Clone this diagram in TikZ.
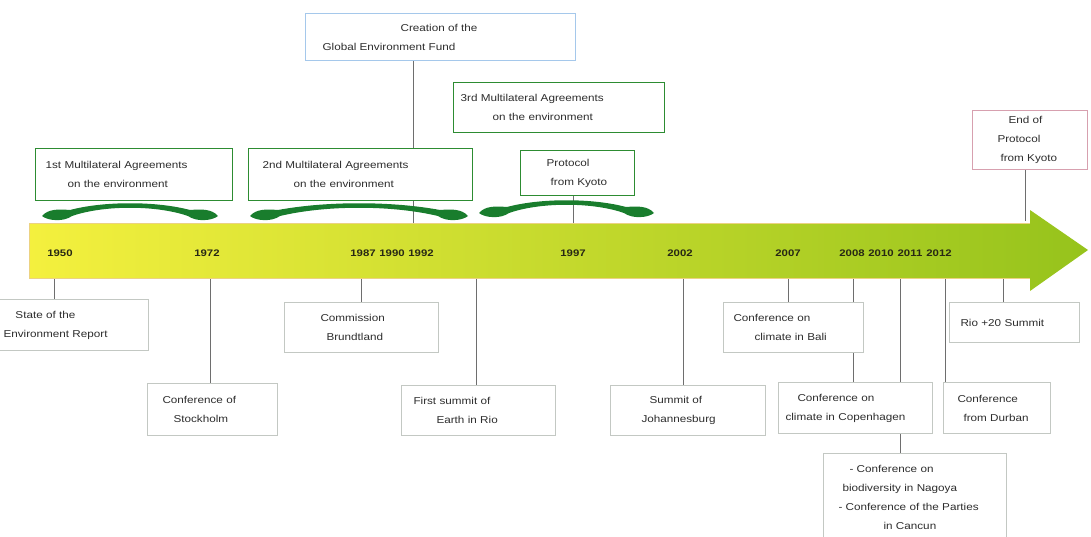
\documentclass[tikz,border=0pt]{standalone}
\usepackage{fontspec}
\setmainfont{Liberation Sans}[FakeStretch=1.17]
\newfontfamily\yearfont{Liberation Sans}[FakeStretch=1.2]
\usetikzlibrary{backgrounds}
\definecolor{agreen}{RGB}{45,140,50}
\definecolor{ablue}{RGB}{165,200,235}
\definecolor{apink}{RGB}{215,160,175}
\definecolor{agray}{RGB}{195,200,195}
\definecolor{aline}{RGB}{110,110,110}
\definecolor{atext}{RGB}{45,45,45}
\definecolor{ayellow}{RGB}{244,240,62}
\definecolor{amid}{RGB}{220,226,42}
\definecolor{alime}{RGB}{150,195,28}
\definecolor{aedge}{RGB}{236,210,130}
\definecolor{swgreen}{RGB}{25,125,45}
\definecolor{ayear}{RGB}{40,40,20}
\tikzset{
  tlbox/.style={draw, fill=white, line width=0.9pt, inner xsep=0pt, inner ysep=0pt,
    anchor=north west, align=left, font=\fontsize{10}{19}\selectfont, text=atext},
  greenbox/.style={tlbox, draw=agreen, line width=1.2pt},
  bluebox/.style={tlbox, draw=ablue, line width=1.1pt},
  pinkbox/.style={tlbox, draw=apink, line width=1pt},
  graybox/.style={tlbox, draw=agray, line width=1pt},
  conn/.style={draw=aline, line width=0.6pt},
  year/.style={font=\yearfont\bfseries\fontsize{9.5}{12}\selectfont, text=ayear, inner sep=0pt},
}
\newcommand\swoosh[3]{%
  \pgfmathsetmacro\sw{#2-#1}%
  \begin{scope}[shift={(#1,#3)}]
  \fill[swgreen] (0,0) .. controls (6,-7) and (16,-7) .. (28,-6)
     .. controls (\sw*0.35,-15) and (\sw*0.65,-15) .. (\sw-28,-6)
     .. controls (\sw-16,-7) and (\sw-6,-7) .. (\sw,0)
     .. controls (\sw-6,5) and (\sw-22,6) .. (\sw-30,0)
     .. controls (\sw*0.65,-11) and (\sw*0.35,-11) .. (30,0)
     .. controls (22,6) and (6,5) .. (0,0) -- cycle;
  \end{scope}}
\begin{document}
\begin{tikzpicture}[x=1pt,y=-1pt]
\useasboundingbox (0,0) rectangle (1091,536);
\clip (0,0) rectangle (1091,536);
% main arrow
\shade[left color=ayellow, middle color=amid, right color=alime]
  (29,223) -- (1030,223) -- (1030,210) -- (1088,250) -- (1030,291) -- (1030,278) -- (29,278) -- cycle;
\draw[aedge, line width=0.5pt] (1030,223) -- (29,223) -- (29,278) -- (1030,278);
% swooshes
\swoosh{42}{218}{216}
\swoosh{250}{468}{216}
\swoosh{479}{654}{213}
% years
\node[year] (y1950) at (60,253) {1950};
\node[year] (y1972) at (207,253) {1972};
\node[year] (y1987) at (363,253) {1987};
\node[year] (y1990) at (392,253) {1990};
\node[year] (y1992) at (421,253) {1992};
\node[year] (y1997) at (573,253) {1997};
\node[year] (y2002) at (680,253) {2002};
\node[year] (y2007) at (788,253) {2007};
\node[year] (y2008) at (852,253) {2008};
\node[year] (y2010) at (881,253) {2010};
\node[year] (y2011) at (910,253) {2011};
\node[year] (y2012) at (939,253) {2012};
% tick coordinates on the arrow
\coordinate (b1950) at (54,278);
\coordinate (b1972) at (210,278);
\coordinate (b1987) at (361,278);
\coordinate (t1990) at (413,223);
\coordinate (b1992) at (476,278);
\coordinate (t1997) at (573,223);
\coordinate (b2002) at (683,278);
\coordinate (b2007) at (788,278);
\coordinate (b2008) at (853,278);
\coordinate (b2010) at (900,278);
\coordinate (b2012) at (945,278);
\coordinate (b2012r) at (1003,278);
\coordinate (tend) at (1025,221);
% top boxes
\node[bluebox, text width=270pt, minimum height=47pt] (gef) at (305,13)
  {\hspace*{95pt}Creation of the\\\hspace*{17pt}Global Environment Fund};
\node[greenbox, text width=197pt, minimum height=52pt] (ma1) at (35,148)
  {\hspace*{10pt}1st Multilateral Agreements\\\hspace*{32pt}on the environment};
\node[greenbox, text width=224pt, minimum height=52pt] (ma2) at (248,148)
  {\hspace*{14pt}2nd Multilateral Agreements\\\hspace*{45pt}on the environment};
\node[greenbox, text width=211pt, minimum height=50pt] (ma3) at (453,82)
  {\hspace*{7pt}3rd Multilateral Agreements\\\hspace*{39pt}on the environment};
\node[greenbox, text width=114pt, minimum height=45pt] (kyoto) at (520,150)
  {\hspace*{26pt}Protocol\\\hspace*{30pt}from Kyoto};
\node[pinkbox, text width=115pt, minimum height=59pt] (endk) at (972,110)
  {\hspace*{36pt}End of\\\hspace*{25pt}Protocol\\\hspace*{28pt}from Kyoto};
% bottom boxes
\node[graybox, text width=154pt, minimum height=51pt] (envrep) at (-6,299)
  {\hspace*{21pt}State of the\\\hspace*{9pt}Environment Report};
\node[graybox, text width=130pt, minimum height=52pt] (stock) at (147,383)
  {\hspace*{15pt}Conference of\\\hspace*{26pt}Stockholm};
\node[graybox, text width=154pt, minimum height=50pt] (brund) at (284,302)
  {\hspace*{36pt}Commission\\\hspace*{42pt}Brundtland};
\node[graybox, text width=154pt, minimum height=50pt] (rio) at (401,385)
  {\hspace*{12pt}First summit of\\\hspace*{35pt}Earth in Rio};
\node[graybox, text width=155pt, minimum height=50pt] (joh) at (610,385)
  {\hspace*{39pt}Summit of\\\hspace*{31pt}Johannesburg};
\node[graybox, text width=140pt, minimum height=50pt] (bali) at (723,302)
  {\hspace*{10pt}Conference on\\\hspace*{31pt}climate in Bali};
\node[graybox, text width=154pt, minimum height=51pt] (cop) at (778,382)
  {\hspace*{19pt}Conference on\\\hspace*{7pt}climate in Copenhagen};
\node[graybox, text width=183pt, minimum height=88pt] (nag) at (823,453)
  {\hspace*{26pt}- Conference on\\\hspace*{19pt}biodiversity in Nagoya\\\hspace*{15pt}- Conference of the Parties\\\hspace*{60pt}in Cancun};
\node[graybox, text width=107pt, minimum height=51pt] (durb) at (943,382)
  {\hspace*{14pt}Conference\\\hspace*{20pt}from Durban};
\node[graybox, text width=130pt, minimum height=40pt] (rio20) at (949,302)
  {\hspace*{11pt}Rio +20 Summit};
% connectors (behind boxes)
\begin{scope}[on background layer]
\draw[conn] (b1950) -- (envrep.north -| b1950);
\draw[conn] (b1972) -- (stock.north -| b1972);
\draw[conn] (b1987) -- (brund.north -| b1987);
\draw[conn] (t1990) -- (gef.south -| t1990);
\draw[conn] (b1992) -- (rio.north -| b1992);
\draw[conn] (t1997) -- (kyoto.south -| t1997);
\draw[conn] (b2002) -- (joh.north -| b2002);
\draw[conn] (b2007) -- (bali.north -| b2007);
\draw[conn] (b2008) -- (cop.north -| b2008);
\draw[conn] (b2010) -- (nag.north -| b2010);
\draw[conn] (b2012) -- (durb.north -| b2012);
\draw[conn] (b2012r) -- (rio20.north -| b2012r);
\draw[conn] (tend) -- (endk.south -| tend);
\end{scope}
\end{tikzpicture}
\end{document}
